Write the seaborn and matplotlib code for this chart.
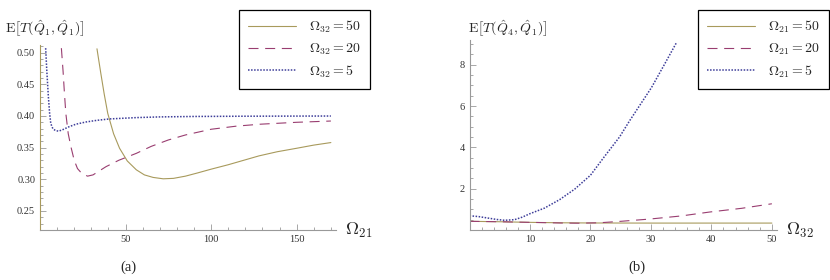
import matplotlib
matplotlib.use('Agg')
import matplotlib.pyplot as plt
import seaborn as sns
from matplotlib.ticker import MultipleLocator

# panel (a): E[T] against Omega_21 for three Omega_32
a_x_50 = [33.3, 35.5, 37.5, 39.6, 43, 46.5, 51, 56.3, 61, 66.1, 72, 78, 85, 92, 100,
          110, 119, 128, 138.6, 150, 160, 170]
a_y_50 = [0.506, 0.468, 0.435, 0.404, 0.372, 0.349, 0.329, 0.315, 0.307, 0.303, 0.3008,
          0.3015, 0.305, 0.310, 0.316, 0.323, 0.330, 0.337, 0.3435, 0.349, 0.354, 0.358]
a_x_20 = [12.5, 13.5, 14.3, 15.1, 16.5, 18.1, 20, 21.9, 24.5, 27.8, 31, 34.5, 38.6, 46,
          56.3, 65, 74.9, 85, 100, 115, 128.8, 150, 170]
a_y_20 = [0.507, 0.47, 0.435, 0.404, 0.372, 0.351, 0.330, 0.317, 0.309, 0.305, 0.307,
          0.313, 0.320, 0.330, 0.341, 0.352, 0.362, 0.370, 0.379, 0.384, 0.387, 0.390, 0.392]
a_x_5 = [3.3, 4.0, 4.9, 5.6, 6.3, 7.5, 9.0, 10.8, 13, 17, 21, 26.9, 33, 40.6, 56.3, 70,
         90, 120, 150, 170]
a_y_5 = [0.507, 0.47, 0.43, 0.405, 0.388, 0.380, 0.377, 0.376, 0.378, 0.383, 0.387,
         0.3905, 0.393, 0.3953, 0.3974, 0.3985, 0.3992, 0.3996, 0.3998, 0.3999]

# panel (b): E[T] against Omega_32 for three Omega_21
b_x_50 = [0, 5, 10, 15, 20, 30, 40, 50]
b_y_50 = [0.42, 0.40, 0.37, 0.35, 0.34, 0.335, 0.335, 0.335]
b_x_20 = [0, 5, 10, 15, 18, 21.5, 25, 29.8, 35, 39.7, 45, 50]
b_y_20 = [0.42, 0.40, 0.37, 0.34, 0.33, 0.35, 0.42, 0.53, 0.68, 0.87, 1.05, 1.27]
b_x_5 = [0, 1.5, 3.0, 4.5, 5.8, 7.45, 8.7, 10, 12.4, 14.9, 17.4, 20, 22.3, 24.8, 26.5,
         28.3, 30.1, 32.2, 34.2]
b_y_5 = [0.69, 0.65, 0.58, 0.51, 0.47, 0.50, 0.62, 0.79, 1.06, 1.47, 1.98, 2.65, 3.55,
         4.5, 5.3, 6.1, 6.9, 8.0, 9.06]

labels_a = [r'$\Omega_{32}=50$', r'$\Omega_{32}=20$', r'$\Omega_{32}=5$']
labels_b = [r'$\Omega_{21}=50$', r'$\Omega_{21}=20$', r'$\Omega_{21}=5$']

OLIVE = '#a89a5c'
MAGENTA = '#993d70'
BLUE = '#3d3d99'
AXIS = '#999999'

sns.set_style('ticks')
plt.rcParams['font.family'] = ['Liberation Serif', 'DejaVu Serif']
plt.rcParams['mathtext.fontset'] = 'cm'

fig = plt.figure(figsize=(8.3, 2.8), dpi=100)
W, H = 830, 280


def px_axes(x0, x1, ytop, ybot):
    return fig.add_axes([x0 / W, 1 - ybot / H, (x1 - x0) / W, (ybot - ytop) / H])


def style(ax, ylabel, xlabel, lx, caption, cx):
    sns.despine(ax=ax)
    for s in ['left', 'bottom']:
        ax.spines[s].set_color(AXIS)
        ax.spines[s].set_linewidth(0.8)
    ax.tick_params(which='both', direction='in', colors=AXIS, labelcolor='#333333',
                   labelsize=7.5, width=0.6)
    ax.tick_params(which='major', length=4)
    ax.tick_params(which='minor', length=2)
    ax.set_xlabel('')
    ax.set_ylabel('')
    ax.text(1.03, 0, xlabel, transform=ax.transAxes, fontsize=13,
            ha='left', va='center')
    fig.text(lx / W, 1 - 29 / H, ylabel, fontsize=10, ha='left', va='center')
    fig.text(cx / W, 1 - 267 / H, caption, fontsize=10.5, ha='center', va='center')


def legend(ax, right):
    ax.legend(loc='upper right', bbox_to_anchor=(right / W, 1 - 10 / H),
              bbox_transform=fig.transFigure, fontsize=10, frameon=True,
              fancybox=False, edgecolor='black', framealpha=1,
              handlelength=3.5, handletextpad=0.9, labelspacing=0.45,
              borderpad=0.65, borderaxespad=0)
    ax.get_legend().get_frame().set_linewidth(0.9)


# ---- panel (a)
ax1 = px_axes(40, 336, 45, 230)
sns.lineplot(x=a_x_50, y=a_y_50, ax=ax1, color=OLIVE, lw=0.8, label=labels_a[0])
sns.lineplot(x=a_x_20, y=a_y_20, ax=ax1, color=MAGENTA, lw=0.8, label=labels_a[1])
ax1.lines[-1].set_dashes([9, 6])
sns.lineplot(x=a_x_5, y=a_y_5, ax=ax1, color=BLUE, lw=1.1, label=labels_a[2])
ax1.lines[-1].set_dashes([1, 1])
ax1.set_xlim(0, 173)
ax1.set_ylim(0.22, 0.512)
ax1.set_xticks([50, 100, 150])
ax1.xaxis.set_minor_locator(MultipleLocator(10))
ax1.set_yticks([0.25, 0.30, 0.35, 0.40, 0.45, 0.50])
ax1.set_yticklabels(['0.25', '0.30', '0.35', '0.40', '0.45', '0.50'])
ax1.yaxis.set_minor_locator(MultipleLocator(0.01))
style(ax1, r'$\mathrm{E}\left[T(\hat{Q}_1,\hat{Q}_1)\right]$', r'$\Omega_{21}$', 5,
      '(a)', 128)
ax1.spines['left'].set_color(OLIVE)
legend(ax1, 370)

# ---- panel (b)
ax2 = px_axes(469.5, 776.7, 40, 230)
sns.lineplot(x=b_x_50, y=b_y_50, ax=ax2, color=OLIVE, lw=0.8, label=labels_b[0])
sns.lineplot(x=b_x_20, y=b_y_20, ax=ax2, color=MAGENTA, lw=0.8, label=labels_b[1])
ax2.lines[-1].set_dashes([9, 6])
sns.lineplot(x=b_x_5, y=b_y_5, ax=ax2, color=BLUE, lw=1.1, label=labels_b[2])
ax2.lines[-1].set_dashes([1, 1])
ax2.set_xlim(0, 50.8)
ax2.set_ylim(0, 9.2)
ax2.set_xticks([10, 20, 30, 40, 50])
ax2.xaxis.set_minor_locator(MultipleLocator(2))
ax2.set_yticks([2, 4, 6, 8])
ax2.yaxis.set_minor_locator(MultipleLocator(0.5))
style(ax2, r'$\mathrm{E}\left[T(\hat{Q}_4,\hat{Q}_1)\right]$', r'$\Omega_{32}$', 468,
      '(b)', 637)
legend(ax2, 829)

fig.savefig('out.png', dpi=100)
